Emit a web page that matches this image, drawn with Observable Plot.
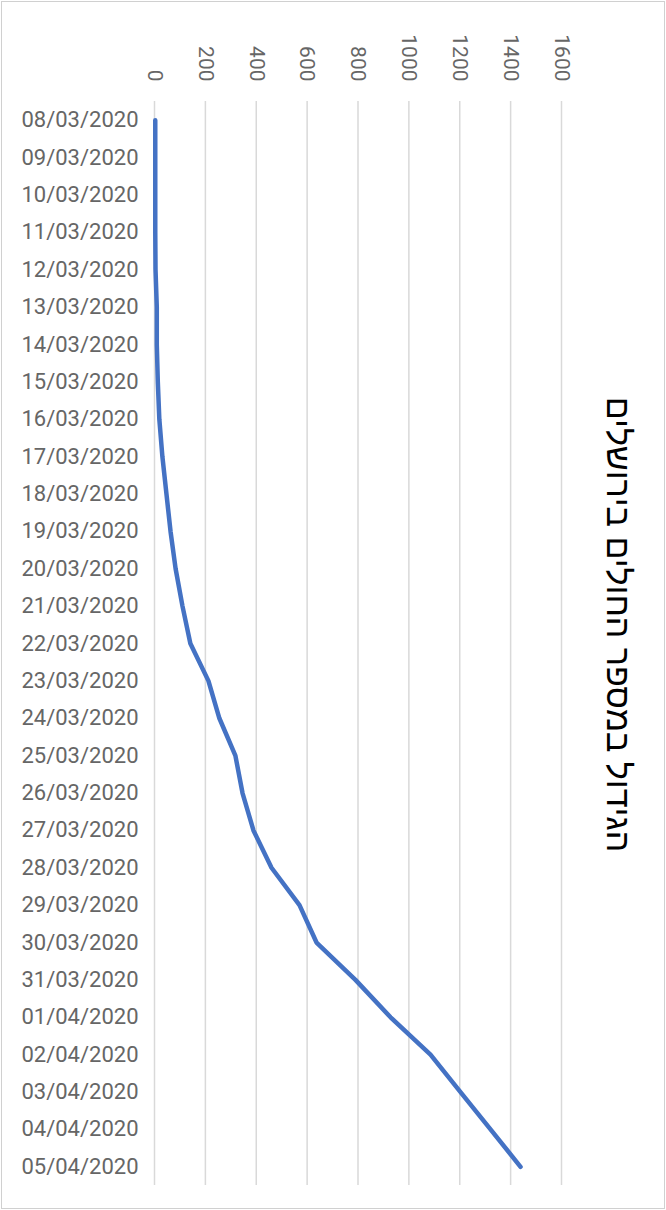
<!DOCTYPE html>
<html><head><meta charset="utf-8">
<script src="https://cdn.jsdelivr.net/npm/d3@7"></script>
<script src="https://cdn.jsdelivr.net/npm/@observablehq/plot@0.6"></script>
<style>
html,body{margin:0;padding:0;background:#fff;}
#wrap{position:relative;width:666px;height:1210px;overflow:hidden;}
#border{position:absolute;left:1px;top:1px;right:1px;bottom:1px;border:1px solid #d0d0d0;pointer-events:none;}
</style></head><body>
<div id="wrap"><div id="border"></div></div>
<script>
const title = "הגידול במספר החולים בירושלים";
const dates = ["08/03/2020","09/03/2020","10/03/2020","11/03/2020","12/03/2020","13/03/2020","14/03/2020","15/03/2020","16/03/2020","17/03/2020","18/03/2020","19/03/2020","20/03/2020","21/03/2020","22/03/2020","23/03/2020","24/03/2020","25/03/2020","26/03/2020","27/03/2020","28/03/2020","29/03/2020","30/03/2020","31/03/2020","01/04/2020","02/04/2020","03/04/2020","04/04/2020","05/04/2020"];
const cases = [3,3,3,3,4,9,9,13,19,31,47,63,83,110,141,212,255,318,346,389,460,570,637,790,928,1085,1203,1321,1439];
const xTicks = [0,200,400,600,800,1000,1200,1400,1600];
const data = dates.map((d,i)=>({date:d, value:cases[i]}));
const chart = Plot.plot({
  width:666, height:1210,
  marginLeft:154, marginRight:105, marginTop:101, marginBottom:25,
  style:{fontFamily:"Roboto, sans-serif", background:"transparent", color:"#595959"},
  x:{domain:[0,1600]},
  y:{type:"point", domain:dates, padding:0.5, round:false},
  marks:[
    Plot.gridX(xTicks,{stroke:"#d9d9d9", strokeOpacity:1, strokeWidth:1.5}),
    Plot.axisX(xTicks,{anchor:"top", tickSize:0, tickPadding:20, tickRotate:90, textAnchor:"end", lineAnchor:"middle", fontSize:21, fill:"#666666", tickFormat:d=>String(d), label:null}),
    Plot.axisY({anchor:"left", tickSize:0, tickPadding:16, fontSize:22, fill:"#666666", label:null}),
    Plot.line(data,{x:"value", y:"date", stroke:"#4472c4", strokeWidth:4.5}),
    Plot.text([title],{frameAnchor:"right", textAnchor:"middle", lineAnchor:"middle", rotate:90, dx:56, dy:-19, fontSize:34, fill:"#000", fontFamily:"Liberation Sans, DejaVu Sans, sans-serif"})
  ]
});
document.getElementById("wrap").prepend(chart);
</script>
</body></html>
